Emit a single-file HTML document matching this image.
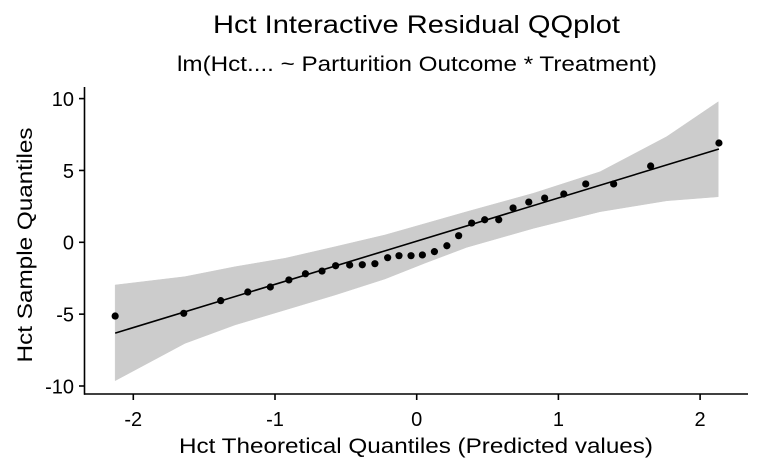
<!DOCTYPE html>
<html><head><meta charset="utf-8"><style>
html,body{margin:0;padding:0;background:#fff;}
svg{display:block;font-family:"Liberation Sans",Arial,sans-serif;}
</style></head><body>
<svg id="chart" width="762" height="470" viewBox="0 0 762 470">
<rect width="762" height="470" fill="#fff"/>
<text x="416.5" y="33" font-size="25" text-anchor="middle" textLength="407" lengthAdjust="spacingAndGlyphs">Hct Interactive Residual QQplot</text>
<text x="417" y="71" font-size="21" text-anchor="middle" textLength="480" lengthAdjust="spacingAndGlyphs">lm(Hct.... ~ Parturition Outcome * Treatment)</text>
<g id="band"></g>
<g id="fit"></g>
<g id="pts"></g>
<g id="axes"></g>
<text x="416" y="453" font-size="21" text-anchor="middle" textLength="474" lengthAdjust="spacingAndGlyphs">Hct Theoretical Quantiles (Predicted values)</text>
<text transform="translate(32,245) rotate(-90)" font-size="21" text-anchor="middle" textLength="235" lengthAdjust="spacingAndGlyphs">Hct Sample Quantiles</text>
</svg>
<script>
const theoretical=[-2.128,-1.644,-1.383,-1.192,-1.033,-0.902,-0.785,-0.668,-0.572,-0.473,-0.384,-0.295,-0.205,-0.125,-0.040,0.040,0.125,0.213,0.296,0.388,0.480,0.579,0.680,0.791,0.903,1.038,1.193,1.390,1.651,2.133];
const sample=[-5.13,-4.94,-4.06,-3.46,-3.11,-2.62,-2.19,-2.00,-1.63,-1.58,-1.56,-1.49,-1.07,-0.93,-0.93,-0.88,-0.65,-0.24,0.46,1.34,1.57,1.57,2.39,2.80,3.08,3.36,4.06,4.06,5.31,6.91];
const bandX=[-2.128,-1.635,-1.282,-0.929,-0.577,-0.224,0.058,0.353,0.823,1.294,1.764,2.128];
const bandUpper=[-2.97,-2.39,-1.70,-1.11,-0.31,0.51,1.30,2.13,3.41,4.91,7.35,9.78];
const bandLower=[-9.63,-7.03,-5.75,-4.71,-3.67,-2.55,-1.45,-0.35,0.97,2.13,2.89,3.17];
const fitIntercept=0.08, fitSlope=3.007;
const xTicks=[-2,-1,0,1,2];
const yTicks=[-10,-5,0,5,10];
const NS='http://www.w3.org/2000/svg';
const X=v=>416.7+v*141.7;
const Y=v=>242.3-v*14.37;
function mk(t,a,p){const e=document.createElementNS(NS,t);for(const k in a)e.setAttribute(k,a[k]);p.appendChild(e);return e;}
let d='M'+bandX.map((x,i)=>X(x)+','+Y(bandUpper[i])).join('L');
for(let i=bandX.length-1;i>=0;i--)d+='L'+X(bandX[i])+','+Y(bandLower[i]);
const bp=mk('path',{d:d+'Z',fill:'#cccccc','stroke':'#cccccc','stroke-width':0.5,'stroke-linejoin':'round'},document.getElementById('band'));


const x0=theoretical[0],x1=theoretical[theoretical.length-1];
const fl=mk('line',{x1:X(x0),y1:Y(fitIntercept+fitSlope*x0),x2:X(x1),y2:Y(fitIntercept+fitSlope*x1),stroke:'#000','stroke-width':1.6},document.getElementById('fit'));


const pg=document.getElementById('pts');
theoretical.forEach((t,i)=>{const c=mk('circle',{cx:X(t),cy:Y(sample[i]),r:3.6,fill:'#000'},pg);

});
const ag=document.getElementById('axes');
const xa=mk('line',{x1:84,y1:394,x2:748,y2:394,stroke:'#000','stroke-width':1.6},ag);


const ya=mk('line',{x1:84.5,y1:87,x2:84.5,y2:394.8,stroke:'#000','stroke-width':1.6},ag);


xTicks.forEach(v=>{const tk=mk('line',{x1:X(v),y1:394,x2:X(v),y2:400,stroke:'#000','stroke-width':1.6},ag);


const tl=mk('text',{x:X(v),y:426,'font-size':20,'text-anchor':'middle'},ag);tl.textContent=String(v);

});
yTicks.forEach(v=>{const tk=mk('line',{x1:79,y1:Y(v),x2:84.5,y2:Y(v),stroke:'#000','stroke-width':1.6},ag);


const tl=mk('text',{x:74,y:Y(v)+7.3,'font-size':20,'text-anchor':'end'},ag);tl.textContent=String(v);

});
</script>
</body></html>
